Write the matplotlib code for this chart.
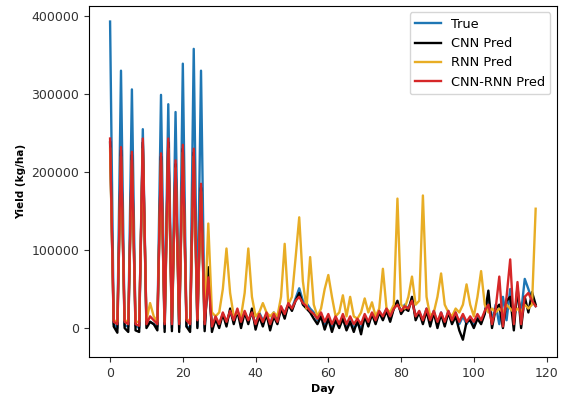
import numpy as np
import matplotlib
matplotlib.use('Agg')
import matplotlib.pyplot as plt

# Yield predictions per day
days = np.arange(118)

true_yield = [
    393000, 5000, 0, 330000, 3000, 2000, 306000, 3000, 0, 255000,
    5000, 8000, 5000, 2000, 299000, 0, 287000, 0, 277000, 0,
    339000, 2000, 0, 358000, 2000, 330000, 0, 70000, 0, 10000,
    5000, 18000, 8000, 20000, 10000, 22000, 8000, 20000, 10000, 18000,
    5000, 20000, 10000, 15000, 5000, 20000, 10000, 25000, 20000, 30000,
    25000, 38000, 51000, 35000, 32000, 25000, 20000, 10000, 18000, 5000,
    15000, 2000, 12000, 5000, 15000, 0, 10000, 0, 5000, 0,
    15000, 5000, 18000, 8000, 20000, 15000, 25000, 12000, 25000, 32000,
    20000, 30000, 25000, 38000, 15000, 20000, 10000, 25000, 8000, 22000,
    5000, 20000, 5000, 22000, 8000, 20000, 5000, 15000, 5000, 12000,
    5000, 15000, 8000, 20000, 35000, 10000, 30000, 5000, 40000, 10000,
    50000, 8000, 45000, 20000, 63000, 50000, 35000, 28000,
]

cnn_pred = [
    238000, 2000, -6000, 228000, 0, -5000, 222000, -3000, -5000, 238000,
    0, 8000, 5000, -3000, 220000, -5000, 238000, -4000, 210000, -5000,
    230000, 2000, -5000, 225000, 0, 180000, -4000, 78000, -5000, 12000,
    0, 18000, 2000, 25000, 5000, 22000, 0, 20000, 5000, 25000,
    -2000, 15000, 2000, 18000, -3000, 15000, 5000, 25000, 12000, 30000,
    22000, 35000, 45000, 30000, 25000, 20000, 12000, 5000, 15000, -2000,
    12000, -5000, 10000, 0, 12000, -3000, 8000, -5000, 10000, -8000,
    15000, 2000, 18000, 5000, 20000, 10000, 22000, 8000, 25000, 35000,
    18000, 25000, 22000, 40000, 10000, 20000, 5000, 22000, 2000, 20000,
    0, 18000, 2000, 20000, 5000, 15000, -3000, -15000, 8000, 10000,
    0, 12000, 5000, 18000, 48000, 0, 25000, 30000, 0, 35000,
    40000, -3000, 53000, 0, 40000, 20000, 46000, 30000,
]

rnn_pred = [
    230000, 10000, 8000, 220000, 10000, 8000, 215000, 8000, 8000, 230000,
    10000, 32000, 15000, 8000, 215000, 8000, 230000, 8000, 205000, 8000,
    225000, 12000, 8000, 220000, 12000, 175000, 10000, 134000, 20000, 15000,
    20000, 50000, 102000, 45000, 15000, 20000, 15000, 45000, 102000, 40000,
    15000, 20000, 32000, 20000, 15000, 20000, 15000, 40000, 108000, 30000,
    40000, 90000, 142000, 60000, 25000, 91000, 30000, 15000, 25000, 50000,
    68000, 40000, 15000, 20000, 42000, 15000, 40000, 15000, 12000, 20000,
    38000, 20000, 33000, 15000, 25000, 76000, 25000, 20000, 30000, 166000,
    30000, 25000, 40000, 66000, 30000, 35000, 170000, 40000, 15000, 20000,
    40000, 70000, 30000, 20000, 15000, 25000, 20000, 30000, 56000, 30000,
    15000, 40000, 73000, 30000, 20000, 25000, 20000, 25000, 20000, 30000,
    25000, 20000, 25000, 20000, 30000, 25000, 30000, 153000,
]

cnn_rnn_pred = [
    243000, 8000, 5000, 232000, 8000, 5000, 226000, 5000, 3000, 243000,
    5000, 15000, 10000, 5000, 224000, 5000, 243000, 5000, 215000, 5000,
    235000, 10000, 5000, 230000, 10000, 185000, 5000, 65000, 2000, 15000,
    5000, 20000, 8000, 22000, 10000, 25000, 8000, 22000, 10000, 20000,
    5000, 18000, 8000, 20000, 5000, 18000, 8000, 28000, 18000, 32000,
    25000, 35000, 40000, 32000, 28000, 22000, 18000, 12000, 20000, 8000,
    18000, 5000, 15000, 5000, 18000, 5000, 15000, 5000, 12000, 5000,
    18000, 8000, 20000, 10000, 22000, 15000, 25000, 15000, 25000, 30000,
    22000, 28000, 25000, 35000, 15000, 22000, 10000, 25000, 10000, 22000,
    8000, 20000, 8000, 22000, 10000, 20000, 8000, 18000, 8000, 15000,
    8000, 18000, 10000, 22000, 30000, 5000, 25000, 66000, 2000, 40000,
    88000, 5000, 59000, 5000, 40000, 45000, 35000, 28000,
]

fig = plt.figure(figsize=(5.62, 3.97), dpi=100)
ax = fig.add_axes([0.158, 0.101, 0.833, 0.884])

ax.plot(days, true_yield, color='#1f77b4', lw=1.7, label='True')
ax.plot(days, cnn_pred, color='black', lw=1.7, label='CNN Pred')
ax.plot(days, rnn_pred, color='#e8ad25', lw=1.7, label='RNN Pred')
ax.plot(days, cnn_rnn_pred, color='#d62728', lw=1.7, label='CNN-RNN Pred')

ax.set_ylim(-37000, 413000)
ax.set_yticks([0, 100000, 200000, 300000, 400000])
ax.set_xticks([0, 20, 40, 60, 80, 100, 120])
ax.tick_params(labelsize=9, colors='#333333', labelcolor='#333333')

ax.set_xlabel('Day', fontsize=8, fontweight='bold', labelpad=3)
ax.set_ylabel('Yield (kg/ha)', fontsize=7.5, fontweight='bold', labelpad=4)

ax.legend(loc='upper right', fontsize=9.3, handlelength=2.0)

fig.savefig('out.png', dpi=100, facecolor='white')
